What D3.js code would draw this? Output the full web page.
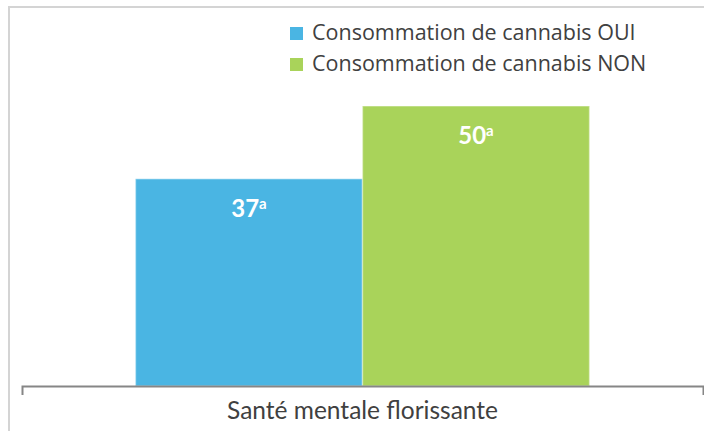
<!DOCTYPE html>
<html>
<head>
<meta charset="utf-8">
<script src="https://cdn.jsdelivr.net/npm/d3@7"></script>
<style>
  body { margin: 0; background: #fff; }
  svg { display: block; font-family: "Lato", "Noto Sans", sans-serif; }
</style>
</head>
<body>
<script>
// chart data
var categories = ["Santé mentale florissante"];
var seriesNames = ["Consommation de cannabis OUI", "Consommation de cannabis NON"];
var seriesValues = [37, 50];
var valueNotes = ["a", "a"];
var colors = ["#4ab5e3", "#a9d35a"];

var width = 704,
    height = 431;

var svg = d3.select("body")
    .append("svg")
    .attr("width", width)
    .attr("height", height);

// frame of the chart area
svg.append("rect")
    .attr("x", 9)
    .attr("y", 7)
    .attr("width", 720)
    .attr("height", 460)
    .attr("fill", "none")
    .attr("stroke", "#d4d4d4")
    .attr("stroke-width", 2);

var baseY = 386;

// x scales: one band per category, one sub band per series
var x0 = d3.scaleBand()
    .domain(categories)
    .range([22, 703])
    .paddingInner(0)
    .paddingOuter(0.25);

var x1 = d3.scaleBand()
    .domain(seriesNames)
    .range([0, x0.bandwidth()])
    .padding(0);

var y = d3.scaleLinear()
    .domain([0, 60])
    .range([baseY, baseY - 336]);

var rows = seriesNames.map(function (name, i) {
    return { cat: categories[0], name: name, value: seriesValues[i], note: valueNotes[i], color: colors[i] };
});

// bars
svg.selectAll("rect.bar")
    .data(rows)
    .join("rect")
    .attr("class", "bar")
    .attr("x", d => x0(d.cat) + x1(d.name))
    .attr("y", d => y(d.value))
    .attr("width", x1.bandwidth())
    .attr("height", d => baseY - y(d.value))
    .attr("fill", d => d.color)
    .attr("stroke", "rgba(255,255,255,0.35)")
    .attr("stroke-width", 1.5);

// value labels
var labels = svg.selectAll("text.val")
    .data(rows)
    .join("text")
    .attr("class", "val")
    .attr("x", d => x0(d.cat) + x1(d.name) + x1.bandwidth() / 2)
    .attr("y", d => y(d.value) + 38)
    .attr("text-anchor", "middle")
    .attr("fill", "#fff")
    .attr("font-weight", "bold")
    .attr("font-size", 24);
labels.append("tspan").text(d => d.value);
labels.append("tspan")
    .attr("font-size", 15)
    .attr("dy", -8)
    .text(d => d.note);

// x axis
var xAxis = svg.append("g")
    .attr("transform", `translate(0,${baseY})`)
    .call(d3.axisBottom(x0).tickSizeInner(0).tickSizeOuter(9).tickPadding(16));
xAxis.select(".domain")
    .attr("stroke", "#868686")
    .attr("stroke-width", 2);
xAxis.selectAll("text")
    .attr("font-family", "Lato, sans-serif")
    .attr("font-size", 24.5)
    .attr("fill", "#404040");

// legend
var legend = svg.selectAll("g.legend")
    .data(seriesNames)
    .join("g")
    .attr("class", "legend")
    .attr("transform", (d, i) => `translate(290,${27 + i * 31})`);
legend.append("rect")
    .attr("width", 13)
    .attr("height", 13)
    .attr("fill", (d, i) => colors[i]);
legend.append("text")
    .attr("x", 22)
    .attr("y", 13)
    .attr("font-family", "'Open Sans', sans-serif")
    .attr("font-size", 21.5)
    .attr("fill", "#404040")
    .text(d => d);
</script>
</body>
</html>
